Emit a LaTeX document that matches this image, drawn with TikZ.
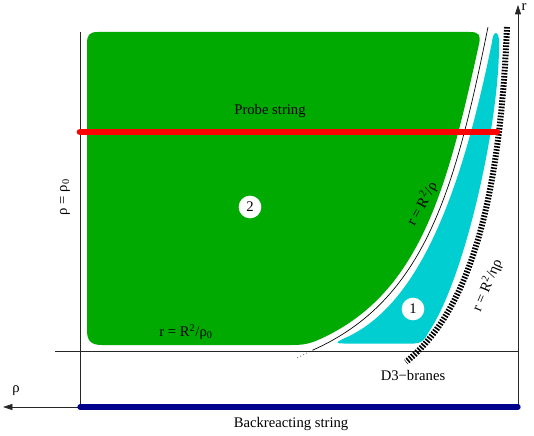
\documentclass[tikz,border=0pt]{standalone}
\usepackage{fontspec}
\setmainfont{Liberation Serif}
\usetikzlibrary{arrows.meta}
\definecolor{regiongreen}{RGB}{0,170,0}
\definecolor{regioncyan}{RGB}{0,206,209}
\definecolor{stringblue}{RGB}{0,0,140}
\begin{document}
\begin{tikzpicture}[x=0.75pt,y=-0.75pt,font=\fontsize{11}{13}\selectfont,
  axis/.style={line width=0.5pt,black!85},
  zonelabel/.style={circle,fill=white,inner sep=0pt,minimum size=17pt}]
\useasboundingbox (0,0) rectangle (534,435);
% region 2
\fill[regiongreen] (87,44) .. controls (87,35) and (89,32) .. (98,32) -- (470,32)
  .. controls (479,32) and (481,35) .. (479,44)
  .. controls (447,190) and (420,295) .. (318,340)
  .. controls (309,344) and (302,345) .. (292,345) -- (102,345)
  .. controls (90,345) and (87,340) .. (87,330) -- cycle;
% region 1
\fill[regioncyan] (492,42) .. controls (462,190) and (420,305) .. (345,338)
  .. controls (336,342) and (334,343.5) .. (344,343.5) -- (414,343.5)
  .. controls (421,343.5) and (425,340) .. (428,333)
  .. controls (465,280) and (500,120) .. (499,42)
  .. controls (499,30) and (493,30) .. (492,42) -- cycle;
% axes
\coordinate (O) at (518,407);
\coordinate (rtop) at (518,5);
\coordinate (rhoend) at (3,407);
\coordinate (wallbot) at (80,407);
\coordinate (walltop) at (80,32);
\coordinate (floorl) at (55,351);
\coordinate (floorr) at (518,351);
\draw[axis] (walltop) -- (wallbot);
\draw[axis] (floorl) -- (floorr);
\draw[axis,-{Triangle[length=7pt,width=4.5pt]}] (O) -- (rtop);
\draw[axis,-{Triangle[length=7pt,width=4.5pt]}] (O) -- (rhoend);
\node (rlab) at (524,7) {r};
\node (rholab) at (16,391) {ρ};
% r = R^2/rho
\draw[line width=0.5pt] (488,27) .. controls (455,190) and (425,300) .. (313,350);
\draw[line width=0.5pt,dotted] (313,350) -- (297,358);
% D3-branes
\draw[line width=4.5pt,dash pattern=on 1.2pt off 1.1pt] (507,27) .. controls (500,200) and (470,310) .. (406,362);
% strings
\coordinate (probel) at (80,132);
\coordinate (prober) at (497,132);
\draw[red,line width=5pt,line cap=round] (probel) -- (prober);
\draw[stringblue,line width=4pt,line cap=round] (wallbot) -- (O);
\node (probe) at (270,111) {Probe string};
\node (back) at (291,424) {Backreacting string};
\node (branes) at (413,375) {D3−branes};
% labels
\node[rotate=90] (rho0) at (65,197) {ρ = ρ\textsubscript{0}};
\node (rfloor) at (186,332) {r = R\textsuperscript{2}/ρ\textsubscript{0}};
\node[rotate=61] (rcurve) at (422,204) {r = R\textsuperscript{2}/ρ};
\node[rotate=67] (rbrane) at (487,285) {r = R\textsuperscript{2}/ηρ};
\node[zonelabel] (two) at (250,207) {2};
\node[zonelabel] (one) at (413,309) {1};
\end{tikzpicture}
\end{document}
